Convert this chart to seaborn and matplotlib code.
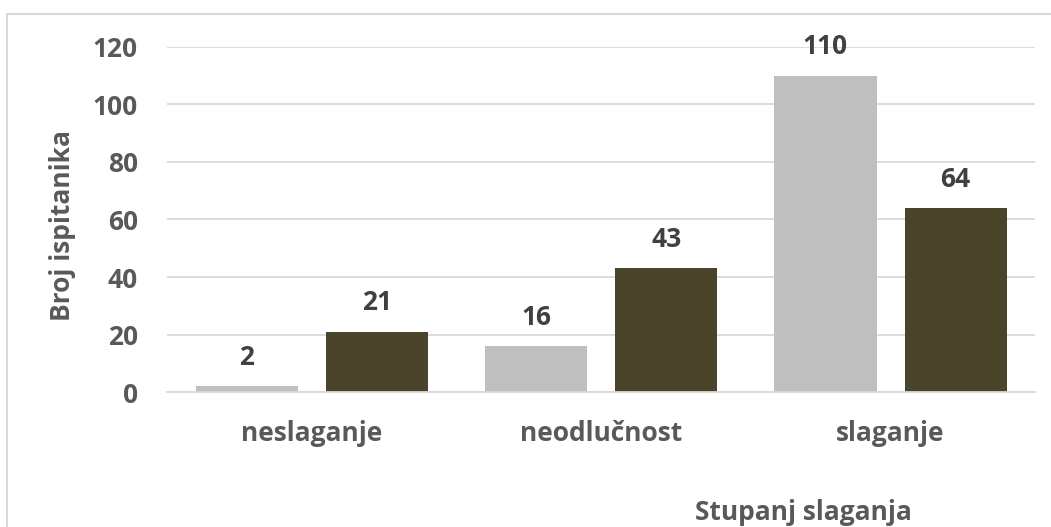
import matplotlib.pyplot as plt
import matplotlib.lines as mlines
import pandas as pd
import seaborn as sns

categories = ["neslaganje", "neodlučnost", "slaganje"]
series_names = ["A", "B"]
values_a = [2, 16, 110]
values_b = [21, 43, 64]
y_ticks = [0, 20, 40, 60, 80, 100, 120]

colors = ["#BFBFBF", "#4A452A"]
text_color = "#595959"
label_color = "#404040"
font_size = 19

df = pd.DataFrame({
    "kategorija": categories * 2,
    "serija": [series_names[0]] * 3 + [series_names[1]] * 3,
    "broj": values_a + values_b,
})

sns.set_theme(style="white")
plt.rcParams["font.family"] = ["Open Sans", "DejaVu Sans"]
plt.rcParams["font.weight"] = "bold"

fig = plt.figure(figsize=(10.51, 5.27), dpi=100)
ax = fig.add_axes([0.159, 0.256, 0.826, 0.655])

sns.barplot(
    data=df, x="kategorija", y="broj", hue="serija",
    palette=colors, width=0.9, gap=0.215, dodge=True,
    legend=False, ax=ax, saturation=1, linewidth=0,
)

for container in ax.containers:
    ax.bar_label(container, padding=11, fontsize=font_size, fontweight="bold", color=label_color)

ax.set_ylim(0, 120)
ax.set_yticks(y_ticks)
ax.yaxis.grid(True, color="#D9D9D9", linewidth=1.3)
ax.set_axisbelow(True)
for side in ["top", "right", "left"]:
    ax.spines[side].set_visible(False)
ax.spines["bottom"].set_color("#D9D9D9")
ax.spines["bottom"].set_linewidth(1.3)
ax.tick_params(axis="both", length=0, labelsize=font_size, labelcolor=text_color)
ax.tick_params(axis="y", pad=21)
ax.tick_params(axis="x", pad=20)
for lbl in ax.get_xticklabels() + ax.get_yticklabels():
    lbl.set_fontweight("bold")

ax.set_xlabel("")
ax.set_ylabel("")
fig.text(0.059, 0.573, "Broj ispitanika", rotation=90, ha="center", va="center",
         fontsize=font_size, fontweight="bold", color=text_color)
fig.text(0.764, 0.027, "Stupanj slaganja", ha="center", va="center",
         fontsize=font_size, fontweight="bold", color=text_color)

# chart frame (top and left edges visible)
fig.add_artist(mlines.Line2D([7 / 1051, 1], [1 - 13.5 / 527, 1 - 13.5 / 527],
                             color="#D9D9D9", linewidth=1.5, transform=fig.transFigure))
fig.add_artist(mlines.Line2D([7 / 1051, 7 / 1051], [0, 1 - 13.5 / 527],
                             color="#D9D9D9", linewidth=1.5, transform=fig.transFigure))

fig.savefig("out.png", dpi=100)
